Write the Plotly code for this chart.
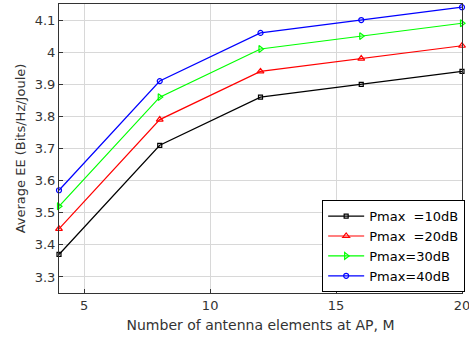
import plotly.graph_objects as go

M = [4, 8, 12, 16, 20]
ee_10 = [3.37, 3.71, 3.86, 3.90, 3.94]
ee_20 = [3.45, 3.79, 3.94, 3.98, 4.02]
ee_30 = [3.52, 3.86, 4.01, 4.05, 4.09]
ee_40 = [3.57, 3.91, 4.06, 4.10, 4.14]
names = ["Pmax  =10dB", "Pmax  =20dB", "Pmax=30dB", "Pmax=40dB"]
series = [ee_10, ee_20, ee_30, ee_40]
colors = ["#000000", "#ff0000", "#00ff00", "#0000ff"]
symbols = ["square-open", "triangle-up-open", "triangle-right-open", "circle-open"]
sizes = [4, 6, 6, 5]

fig = go.Figure()
for nm, ys, c, s, sz in zip(names, series, colors, symbols, sizes):
    fig.add_trace(go.Scatter(x=M, y=ys, mode="lines+markers", name=nm, cliponaxis=False,
                             line=dict(color=c, width=1.2),
                             marker=dict(symbol=s, size=sz, color=c, line=dict(width=1.2, color=c))))

axis_common = dict(showline=True, linecolor="#333333", linewidth=1, mirror=True,
                   showgrid=True, gridcolor="#d8d8d8", gridwidth=1, zeroline=False,
                   ticks="inside", ticklen=4, tickcolor="#333333",
                   ticklabeloverflow="allow", automargin=False,
                   tickfont=dict(family="DejaVu Sans", size=13, color="#333333"))
fig.update_xaxes(range=[4, 20], tickvals=[5, 10, 15, 20],
                 title=dict(text="Number of antenna elements at AP, M", standoff=8,
                            font=dict(family="DejaVu Sans", size=14, color="#333333")),
                 **axis_common)
fig.update_yaxes(range=[3.25, 4.15], tickvals=[3.3, 3.4, 3.5, 3.6, 3.7, 3.8, 3.9, 4.0, 4.1],
                 ticktext=["3.3", "3.4", "3.5", "3.6", "3.7", "3.8", "3.9", "4", "4.1"],
                 title=dict(text="Average EE (Bits/Hz/Joule)", standoff=6,
                            font=dict(family="DejaVu Sans", size=13, color="#333333")),
                 **axis_common)
fig.update_layout(width=469, height=340, margin=dict(l=59, r=7, t=4, b=47),
                  plot_bgcolor="white", paper_bgcolor="white",
                  legend=dict(x=0.653, xanchor="left", y=0.003, yanchor="bottom",
                              bgcolor="white", bordercolor="#000000", borderwidth=1,
                              font=dict(family="DejaVu Sans", size=13, color="#000000"),
                              tracegroupgap=0, itemwidth=36))
fig.write_html("out.html", config={"displayModeBar": False},
               post_script="document.body.style.margin='0';document.body.style.overflow='hidden';")
